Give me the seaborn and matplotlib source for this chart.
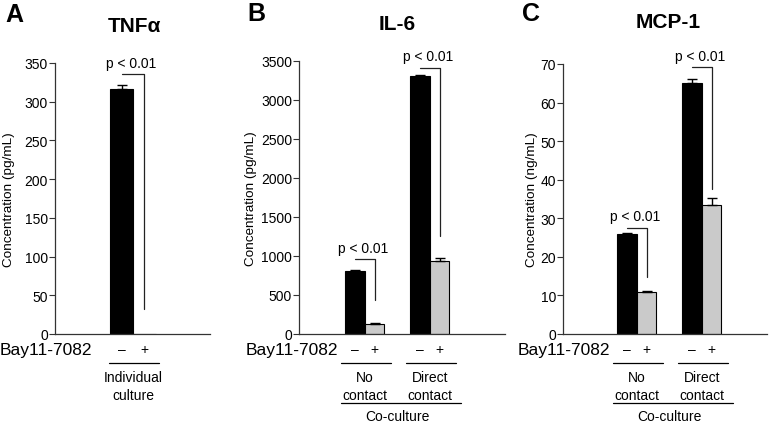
import numpy as np
import pandas as pd
import seaborn as sns
import matplotlib.pyplot as plt
import matplotlib.transforms as mtransforms

sns.set_style("ticks")
plt.rcParams['font.family'] = ['Liberation Sans', 'DejaVu Sans']
plt.rcParams['text.color'] = 'black'
plt.rcParams['axes.labelcolor'] = 'black'
plt.rcParams['ytick.color'] = 'black'
plt.rcParams['ytick.labelcolor'] = 'black'

bay_levels = ['–', '+']

# A: TNFa, individual culture
tnf_group = ['Individual\nculture', 'Individual\nculture']
tnf_bay = ['–', '+']
tnf_val = [316, 0]
tnf_err = [6, 0]
tnf_sig = [(336, 32)]

# B / C: co-culture
co_group = ['No\ncontact', 'No\ncontact', 'Direct\ncontact', 'Direct\ncontact']
co_bay = ['–', '+', '–', '+']
il6_val = [810, 130, 3310, 940]
il6_err = [12, 15, 15, 35]
il6_sig = [(960, 430), (3415, 1260)]

mcp_val = [26, 11, 65, 33.5]
mcp_err = [0.3, 0.2, 1.0, 1.8]
mcp_sig = [(27.6, 14.7), (69.1, 37.6)]

W, H = 770, 427
fig = plt.figure(figsize=(W / 100, H / 100), dpi=100)


def fy(py):
    return 1 - py / H


def panel(rect, groups, bay, vals, errs, sig, width, xlim, ylim, yticks, ylabel,
          labx, title, tpos, letter, lpos, bayx, cocult):
    ax = fig.add_axes(rect)
    df = pd.DataFrame({'group': groups, 'bay': bay, 'val': vals})
    sns.barplot(data=df, x='group', y='val', hue='bay', hue_order=bay_levels,
                palette=['black', '#cacaca'], width=width, errorbar=None,
                edgecolor='black', linewidth=0.8, legend=False, ax=ax)
    bars = sorted([p for p in ax.patches], key=lambda p: p.get_x())
    cx = [p.get_x() + p.get_width() / 2 for p in bars]
    for x, v, e in zip(cx, vals, errs):
        if e > 0:
            ax.errorbar([x], [v], yerr=[[0], [e]], fmt='none', ecolor='black',
                        elinewidth=1, capsize=3.5, capthick=1)
    # significance brackets
    for i, (top, bot) in enumerate(sig):
        x1, x2 = cx[2 * i], cx[2 * i + 1]
        ax.plot([x1, x2, x2], [top, top, bot], color='#222222', lw=0.9)
        ax.annotate('p < 0.01', ((x1 + x2) / 2 - 0.03, top), xytext=(0, 3),
                    textcoords='offset points', ha='center', va='bottom',
                    fontsize=10)
    ax.set_xlim(*xlim)
    ax.set_ylim(*ylim)
    ax.set_yticks(yticks)
    ax.tick_params(axis='y', labelsize=10, length=4, width=0.8, pad=1, color='#333333')
    ax.set_xticks([])
    ax.set_xlabel('')
    ax.set_ylabel(ylabel, fontsize=9.7)
    ax.yaxis.set_label_coords(labx, 0.5)
    sns.despine(ax=ax)
    for s in ['left', 'bottom']:
        ax.spines[s].set_linewidth(0.9)
        ax.spines[s].set_color('#333333')

    # labels under the axis
    tr = mtransforms.blended_transform_factory(ax.transData, fig.transFigure)
    for x, b in zip(cx, bay):
        ax.text(x, fy(350), b, transform=tr, ha='center', va='center', fontsize=10)
    gnames = groups[::2]
    gcent = [(cx[2 * i] + cx[2 * i + 1]) / 2 for i in range(len(gnames))]
    for g, c in zip(gnames, gcent):
        ax.plot([c - 0.37, c + 0.40], [fy(364), fy(364)], transform=tr,
                color='black', lw=0.9, clip_on=False)
        ax.text(c, fy(387), g, transform=tr, ha='center', va='center',
                fontsize=10, linespacing=1.4)
    if cocult:
        ax.plot([gcent[0] - 0.37, gcent[-1] + 0.47], [fy(404), fy(404)],
                transform=tr, color='black', lw=0.9, clip_on=False)
        ax.text((gcent[0] + gcent[-1]) / 2, fy(417), 'Co-culture', transform=tr,
                ha='center', va='center', fontsize=10)

    fig.text(bayx / W, fy(351), 'Bay11-7082', ha='right', va='center', fontsize=12.5)
    fig.text(tpos[0] / W, fy(tpos[1]), title, ha='center', va='center',
             fontsize=15, fontweight='bold')
    fig.text(lpos[0] / W, fy(lpos[1]), letter, ha='center', va='center',
             fontsize=18, fontweight='bold')
    return ax


def rect(x0, x1, ytop):
    return [x0 / W, fy(335), (x1 - x0) / W, (335 - ytop) / H]


panel(rect(55, 210, 64), tnf_group, tnf_bay, tnf_val, tnf_err, tnf_sig, 0.7,
      (-1.2, 1.185), (0, 350), range(0, 351, 50), 'Concentration (pg/mL)',
      -0.26, 'TNFα', (134, 27), 'A', (14, 15), 92, False)

panel(rect(299, 505, 62), co_group, co_bay, il6_val, il6_err, il6_sig, 0.6,
      (-1.015, 2.154), (0, 3500), range(0, 3501, 500), 'Concentration (pg/mL)',
      -0.205, 'IL-6', (397, 24), 'B', (256, 14), 338, True)

panel(rect(563, 767, 65), co_group, co_bay, mcp_val, mcp_err, mcp_sig, 0.6,
      (-1.138, 2.0), (0, 70), range(0, 71, 10), 'Concentration (ng/mL)',
      -0.125, 'MCP-1', (668, 23), 'C', (531, 14), 610, True)

fig.savefig('out.png', dpi=100)
